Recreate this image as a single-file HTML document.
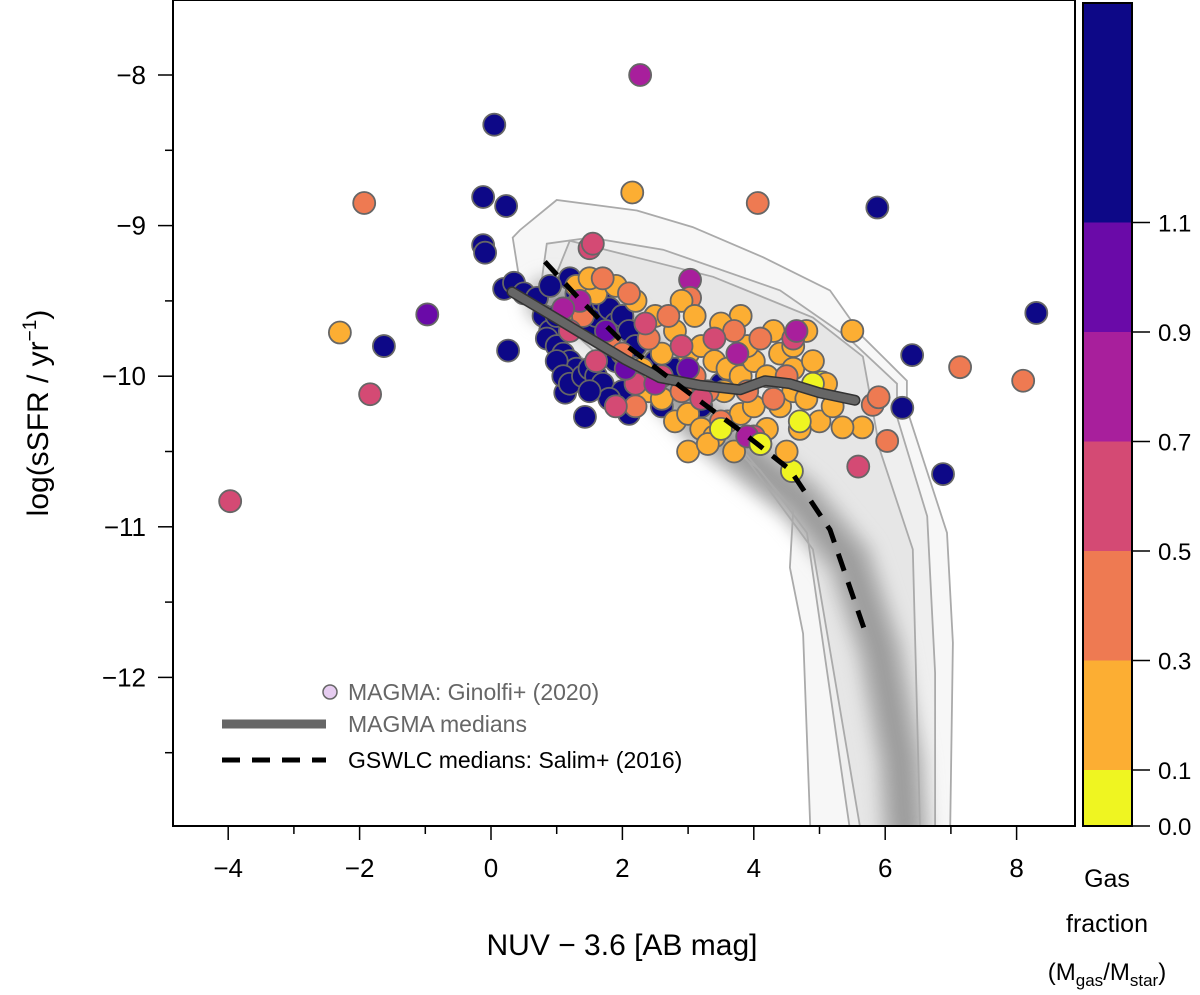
<!DOCTYPE html>
<html><head><meta charset="utf-8"><style>
body{margin:0;background:#fff}
svg{display:block;font-family:"Liberation Sans",sans-serif}
</style></head><body>
<svg id="chart" width="1200" height="995" viewBox="0 0 1200 995">
<defs><filter id="blur" x="-20%" y="-20%" width="140%" height="140%"><feGaussianBlur stdDeviation="8"/></filter>
<clipPath id="plotclip"><rect x="173" y="0" width="902" height="826"/></clipPath></defs>
<g id="density" clip-path="url(#plotclip)"></g>
<g id="contours" clip-path="url(#plotclip)"></g>
<g id="points" clip-path="url(#plotclip)"></g>
<g id="lines" clip-path="url(#plotclip)"></g>
<rect x="173" y="0" width="902" height="826" fill="none" stroke="#000" stroke-width="2"/>
<g id="axes"></g>
<g id="cbar"></g>
<g>
<circle cx="330" cy="692" r="7" fill="#e6ccf0" stroke="#666" stroke-width="1.5"/>
<text x="348" y="700" font-size="23" fill="#666">MAGMA: Ginolfi+ (2020)</text>
<line x1="222" y1="724" x2="326" y2="724" stroke="#666" stroke-width="9"/>
<text x="348" y="732" font-size="23" fill="#666">MAGMA medians</text>
<line x1="222" y1="760" x2="326" y2="760" stroke="#000" stroke-width="5" stroke-dasharray="18,12"/>
<text x="348" y="768" font-size="23" fill="#000">GSWLC medians: Salim+ (2016)</text>
</g>
<text x="622" y="955" font-size="30" text-anchor="middle">NUV − 3.6 [AB mag]</text>
<text transform="translate(48,413) rotate(-90)" font-size="30" text-anchor="middle">log(sSFR / yr<tspan dy="-12" font-size="19">−1</tspan><tspan dy="12">)</tspan></text>
<text x="1107" y="887" font-size="25" text-anchor="middle">Gas</text>
<text x="1107" y="932" font-size="25" text-anchor="middle">fraction</text>
<text x="1107" y="980" font-size="24" text-anchor="middle">(M<tspan dy="6" font-size="17">gas</tspan><tspan dy="-6">/M</tspan><tspan dy="6" font-size="17">star</tspan><tspan dy="-6">)</tspan></text>
</svg>
<script>
const NS="http://www.w3.org/2000/svg";
const xTicks=[-4,-2,0,2,4,6,8];
const yTicks=[-8,-9,-10,-11,-12];
const cbEdges=[0.0,0.1,0.3,0.5,0.7,0.9,1.1];
const cbColors=["#eff521","#fcae33","#ee7a52","#d44a74","#a81f9c","#6a0aa8","#0d0887"];
const ptX=[2.27,0.05,-1.93,2.15,-0.12,0.23,4.06,5.88,-0.12,-0.09,-2.3,-1.63,-0.97,-1.84,-3.97,0.26,8.3,8.1,7.14,6.41,5.81,5.9,6.26,6.03,5.59,6.88,5.04,4.58,5.5,5.65,5.35,1.13,1.43,3.03,3.03,3.8,
0.2,0.35,0.5,0.7,0.8,0.9,0.85,1.0,1.1,1.2,1.3,1.0,1.1,1.2,1.4,1.5,1.6,1.7,1.5,1.6,1.4,1.7,1.8,1.9,2.0,2.1,2.2,1.9,2.0,2.1,2.3,2.4,1.3,1.2,1.0,0.9,2.5,2.6,1.8,1.5,3.2,3.5,2.8,
1.3,1.6,1.9,2.2,2.5,2.8,3.0,3.2,3.4,3.6,3.8,4.0,4.2,4.4,4.6,4.8,2.4,2.6,2.8,3.0,3.2,3.4,3.6,3.8,4.0,4.2,4.4,4.6,4.8,5.0,5.2,3.0,3.3,3.7,4.1,4.5,2.9,3.1,3.5,3.9,4.3,4.6,4.9,2.3,2.6,1.2,1.5,5.1,4.7,3.55,
1.4,1.8,2.0,2.4,2.7,3.1,3.3,3.5,3.9,4.1,4.5,2.2,2.9,4.3,3.7,1.7,2.1,
1.5,1.55,1.2,1.6,2.2,2.6,2.9,3.4,4.0,4.6,3.2,2.35,1.9,
1.35,1.75,2.5,3.0,3.75,2.05,4.65,3.9,1.1,
4.9,4.7,3.5,4.1];
const ptY=[-8.0,-8.33,-8.85,-8.78,-8.81,-8.87,-8.85,-8.88,-9.13,-9.18,-9.71,-9.8,-9.59,-10.12,-10.83,-9.83,-9.58,-10.03,-9.94,-9.86,-10.19,-10.14,-10.21,-10.43,-10.6,-10.65,-10.04,-10.63,-9.7,-10.34,-10.34,-10.11,-10.27,-9.36,-9.48,-9.6,
-9.42,-9.38,-9.45,-9.48,-9.6,-9.7,-9.75,-9.8,-9.85,-9.9,-9.95,-9.9,-10.0,-10.05,-10.0,-9.95,-10.0,-10.05,-9.7,-9.6,-9.55,-9.5,-9.55,-9.65,-9.6,-9.7,-9.8,-9.9,-10.1,-10.25,-10.05,-10.0,-9.45,-9.35,-9.6,-9.4,-9.9,-10.2,-10.15,-10.1,-10.2,-10.05,-9.95,
-9.4,-9.45,-9.4,-9.5,-9.6,-9.7,-9.85,-9.8,-9.9,-9.95,-10.0,-9.9,-10.0,-9.85,-9.8,-9.7,-10.1,-10.15,-10.3,-10.25,-10.35,-10.4,-10.3,-10.25,-10.2,-10.35,-10.2,-10.1,-10.15,-10.3,-10.2,-10.5,-10.45,-10.5,-10.45,-10.5,-9.5,-9.6,-9.65,-9.8,-9.7,-9.95,-9.9,-9.95,-9.85,-9.55,-9.35,-10.05,-10.35,-10.1,
-9.6,-9.75,-9.85,-9.75,-9.6,-10.0,-10.1,-10.3,-10.1,-9.75,-10.0,-10.2,-10.1,-10.15,-9.7,-9.35,-9.45,
-9.15,-9.12,-9.7,-9.9,-10.05,-10.0,-9.8,-9.75,-10.4,-9.75,-10.15,-9.65,-10.2,
-9.5,-9.7,-10.05,-9.95,-9.85,-9.95,-9.7,-10.4,-9.55,
-10.05,-10.3,-10.35,-10.45];
const ptF=[0.8,1.3,0.4,0.2,1.3,1.3,0.4,1.3,1.3,1.3,0.2,1.3,1.0,0.6,0.6,1.3,1.3,0.4,0.4,1.3,0.4,0.4,1.3,0.4,0.6,1.3,0.05,0.05,0.2,0.2,0.2,1.3,1.3,0.8,0.4,0.2,
1.3,1.3,1.3,1.3,1.3,1.3,1.3,1.3,1.3,1.3,1.3,1.3,1.3,1.3,1.3,1.3,1.3,1.3,1.3,1.3,1.3,1.3,1.3,1.3,1.3,1.3,1.3,1.3,1.3,1.3,1.3,1.3,1.3,1.3,1.3,1.3,1.3,1.3,1.3,1.3,1.3,1.3,1.3,
0.2,0.2,0.2,0.2,0.2,0.2,0.2,0.2,0.2,0.2,0.2,0.2,0.2,0.2,0.2,0.2,0.2,0.2,0.2,0.2,0.2,0.2,0.2,0.2,0.2,0.2,0.2,0.2,0.2,0.2,0.2,0.2,0.2,0.2,0.2,0.2,0.2,0.2,0.2,0.2,0.2,0.2,0.2,0.2,0.2,0.2,0.2,0.2,0.2,0.2,
0.4,0.4,0.4,0.4,0.4,0.4,0.4,0.4,0.4,0.4,0.4,0.4,0.4,0.4,0.4,0.4,0.4,
0.6,0.6,0.6,0.6,0.6,0.6,0.6,0.6,0.6,0.6,0.6,0.6,0.6,
0.8,1.0,0.8,1.0,0.8,1.0,0.8,0.8,0.8,
0.05,0.05,0.05,0.05];
const gswX=[0.82,1.35,2.04,3.04,3.79,4.55,5.16,5.69];
const gswY=[-9.24,-9.49,-9.79,-10.12,-10.36,-10.62,-11.02,-11.69];
const medX=[0.32,1.05,2.04,2.57,3.17,3.79,4.17,4.55,5.0,5.54];
const medY=[-9.44,-9.63,-9.89,-10.01,-10.06,-10.09,-10.03,-10.05,-10.11,-10.16];
const ridgeX=[0.9,1.81,3.18,4.7,5.46,5.92,6.23,6.3];
const ridgeY=[-9.5,-9.63,-10.29,-10.82,-11.22,-11.82,-12.55,-13.0];
const c1X=[0.33,0.44,1.0,2.22,3.07,4.14,5.16,5.66,6.33,6.33,6.94,7.03,6.99,4.86,4.75,4.55,4.6,3.79,2.68,1.51,0.85,0.44];
const c1Y=[-9.08,-9.03,-8.83,-8.9,-9.01,-9.21,-9.43,-9.74,-10.03,-10.22,-11.04,-11.77,-13.0,-13.0,-11.71,-11.27,-10.89,-10.47,-10.22,-10.0,-9.74,-9.38];
const c2X=[0.85,1.51,2.62,4.4,5.42,6.18,6.18,6.64,6.76,6.76,5.46,4.81,4.09,3.14,1.86,1.0,0.75];
const c2Y=[-9.12,-9.08,-9.16,-9.43,-9.74,-10.05,-10.27,-10.93,-11.97,-13.0,-13.0,-11.04,-10.62,-10.31,-10.05,-9.74,-9.43];
const c3X=[1.2,3.38,4.9,5.66,5.92,6.42,6.53,5.62,4.9,3.79,2.12,1.1,0.94];
const c3Y=[-9.1,-9.34,-9.61,-9.87,-10.49,-11.15,-13.0,-13.0,-11.15,-10.49,-10.05,-9.65,-9.38];

const X=v=>491+v*65.7, Y=v=>75-(v+8)*150.6;
const cbY=v=>826-(v<=0.1? v/0.1*56 : 56+(v-0.1)/0.2*109.5);
function el(tag,attrs,parent){const e=document.createElementNS(NS,tag);for(const k in attrs)e.setAttribute(k,attrs[k]);parent.appendChild(e);return e;}
function colorFor(f){let i=0;for(let k=0;k<cbEdges.length;k++)if(f>=cbEdges[k])i=k;return cbColors[i];}
function path(xs,ys,close){return xs.map((x,i)=>(i?"L":"M")+X(x).toFixed(1)+","+Y(ys[i]).toFixed(1)).join(" ")+(close?"Z":"");}

// density
const dg=document.getElementById("density");
const d1=el("path",{d:path(c1X,c1Y,true),fill:"#f7f7f7",stroke:"none"},dg);


const d2=el("path",{d:path(c2X,c2Y,true),fill:"#efefef",stroke:"none"},dg);


const d2b=el("path",{d:path(c3X,c3Y,true),fill:"#e6e6e6",stroke:"none"},dg);


const d3=el("path",{d:path(ridgeX,ridgeY,false),fill:"none",stroke:"#bdbdbd",'stroke-width':50,'stroke-linecap':'round','stroke-linejoin':'round',filter:"url(#blur)"},dg);


const d4=el("path",{d:path(ridgeX,ridgeY,false),fill:"none",stroke:"#9a9a9a",'stroke-width':22,'stroke-linecap':'round','stroke-linejoin':'round',filter:"url(#blur)"},dg);



// contours
const cg=document.getElementById("contours");
[[c1X,c1Y],[c2X,c2Y],[c3X,c3Y]].forEach((c,i)=>{
 const p=el("path",{d:path(c[0],c[1],true),fill:"none",stroke:"#aaa",'stroke-width':1.8},cg);
 
 
});

// points
const pg=document.getElementById("points");
ptX.forEach((x,i)=>{
 const c=el("circle",{cx:X(x),cy:Y(ptY[i]),r:11,fill:colorFor(ptF[i]),stroke:"#666",'stroke-width':1.8},pg);
 
 
});

// lines
const lg=document.getElementById("lines");
const m1=el("path",{d:path(medX,medY,false),fill:"none",stroke:"#333",'stroke-width':11,'stroke-linecap':'round','stroke-linejoin':'round'},lg);


const m2=el("path",{d:path(medX,medY,false),fill:"none",stroke:"#666",'stroke-width':8,'stroke-linecap':'round','stroke-linejoin':'round'},lg);


const g1=el("path",{d:path(gswX,gswY,false),fill:"none",stroke:"#000",'stroke-width':5,'stroke-dasharray':'18,12'},lg);



// axes
const ag=document.getElementById("axes");
for(let v=-4;v<=8;v++){
 const major=xTicks.includes(v);
 const t=el("line",{x1:X(v),x2:X(v),y1:826,y2:major?840:834,stroke:"#000",'stroke-width':1.5},ag);
 
 
}
xTicks.forEach(v=>{
 const t=el("text",{x:X(v),y:877,'font-size':26,'text-anchor':'middle'},ag);t.textContent=(v<0?"−":"")+Math.abs(v);
 
 
});
for(let v=-8;v>=-12.5;v-=0.5){
 const major=yTicks.includes(v);
 const t=el("line",{x1:173,x2:major?158:165,y1:Y(v),y2:Y(v),stroke:"#000",'stroke-width':1.5},ag);
 
 
}
yTicks.forEach(v=>{
 const t=el("text",{x:146,y:Y(v)+9,'font-size':26,'text-anchor':'end'},ag);t.textContent="−"+Math.abs(v);
 
 
});

// colorbar
const cb=document.getElementById("cbar");
cbColors.forEach((c,i)=>{
 const lo=cbY(cbEdges[i]), hi=i<cbEdges.length-1?cbY(cbEdges[i+1]):3;
 const r=el("rect",{x:1083,y:hi,width:49,height:lo-hi,fill:c},cb);
 
 
});
const fr=el("rect",{x:1083,y:3,width:49,height:823,fill:"none",stroke:"#000",'stroke-width':2},cb);


cbEdges.forEach(v=>{
 const t=el("line",{x1:1132,x2:1150,y1:cbY(v),y2:cbY(v),stroke:"#000",'stroke-width':1.5},cb);
 
 
 const l=el("text",{x:1158,y:cbY(v)+9,'font-size':24},cb);l.textContent=v.toFixed(1);
 
 
});
</script>
</body></html>
